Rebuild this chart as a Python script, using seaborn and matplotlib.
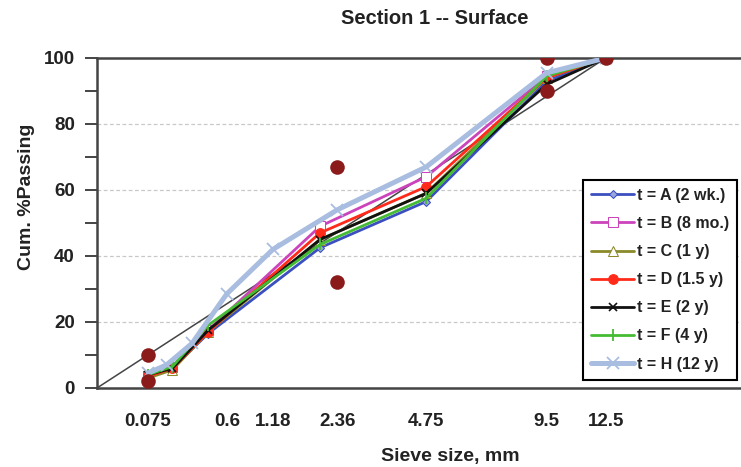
import numpy as np
import pandas as pd
import matplotlib
matplotlib.use("Agg")
import matplotlib.pyplot as plt
import seaborn as sns
from matplotlib import font_manager

# ---------------- data ----------------
sieves_old = [0.075, 0.18, 0.425, 2.0, 4.75, 9.5, 12.5]
pass_A = [4, 6, 16.5, 42.5, 56.5, 93, 100]
pass_B = [3.5, 6.5, 17.5, 49, 64, 94.5, 100]
pass_C = [3, 5.5, 17, 45, 59, 94, 100]
pass_D = [3.5, 6, 17, 47, 61, 94, 100]
pass_E = [4, 6, 17.5, 45, 59, 92, 100]
pass_F = [4, 6.5, 19, 43.5, 57.5, 94.5, 100]
sieves_new = [0.075, 0.15, 0.3, 0.6, 1.18, 2.36, 4.75, 9.5, 12.5]
pass_H = [4.5, 7, 13.5, 28.5, 42, 54, 67, 95.5, 100]

labels = ["t = A (2 wk.)", "t = B (8 mo.)", "t = C (1 y)", "t = D (1.5 y)",
          "t = E (2 y)", "t = F (4 y)", "t = H (12 y)"]

ctrl_x = [0.075, 0.075, 2.36, 2.36, 9.5, 9.5, 12.5]
ctrl_y = [2, 10, 32, 67, 90, 100, 100]

maxden_x = [0, 12.5]
maxden_y = [0, 100]

tick_sizes = [0.075, 0.6, 1.18, 2.36, 4.75, 9.5, 12.5]
tick_labels = ["0.075", "0.6", "1.18", "2.36", "4.75", "9.5", "12.5"]

# ---------------- style ----------------
sns.set_style("white")
avail = {f.name for f in font_manager.fontManager.ttflist}
fam = "Liberation Sans" if "Liberation Sans" in avail else "DejaVu Sans"
plt.rcParams["font.family"] = [fam, "DejaVu Sans"]
plt.rcParams["font.weight"] = "bold"

W, H = 741, 467
fig = plt.figure(figsize=(W / 100, H / 100), dpi=100)
ax = fig.add_axes([97 / W, (H - 388) / H, (W - 97) / W, 330 / H])

p = 0.45
ax.set_xscale("function",
              functions=(lambda x: np.power(np.clip(x, 0, None), p),
                         lambda y: np.power(np.clip(y, 0, None), 1 / p)))

# maximum density line
sns.lineplot(x=maxden_x, y=maxden_y, ax=ax, color="#444444", lw=1.1,
             zorder=2, legend=False)

styles = [
    (sieves_old, pass_A, "#3b4fc0", "D", dict(ms=4.5, mfc="#9aa6e0", mec="#3b4fc0"), 2.0),
    (sieves_old, pass_B, "#cc44bb", "s", dict(ms=7, mfc="white", mec="#cc44bb"), 2.0),
    (sieves_old, pass_C, "#8a8a2a", "^", dict(ms=7, mfc="white", mec="#8a8a2a"), 2.0),
    (sieves_old, pass_D, "#ff2a1a", "o", dict(ms=7, mfc="#ff2a1a", mec="#ff2a1a"), 2.0),
    (sieves_old, pass_E, "#111111", "x", dict(ms=6, mec="#111111", mew=1.2), 2.0),
    (sieves_old, pass_F, "#44bb33", "|", dict(ms=9, mec="#44bb33", mew=1.3), 2.0),
    (sieves_new, pass_H, "#a8bde0", "x", dict(ms=8, mec="#a8bde0", mew=1.3), 3.6),
]

for i, ((xs, ys, col, mk, mkw, lw), lab) in enumerate(zip(styles, labels)):
    df = pd.DataFrame({"size": xs, "pass": ys})
    sns.lineplot(data=df, x="size", y="pass", ax=ax, color=col, marker=mk,
                 lw=lw, label=lab, zorder=3 + i, sort=False, **mkw)

# control points
sns.scatterplot(x=ctrl_x, y=ctrl_y, ax=ax, color="#8b1a1a", s=110,
                edgecolor="#8b1a1a", linewidth=0, zorder=20, legend=False)

# axes
ax.set_xlim(0, 21.1)
ax.set_ylim(0, 100)
ax.set_yticks(np.arange(0, 101, 10))
ax.set_yticklabels([str(v) if v % 20 == 0 else "" for v in range(0, 101, 10)])
ax.set_xticks(tick_sizes)
ax.set_xticklabels(tick_labels)
ax.tick_params(axis="y", length=9, width=1.4, color="#444444", pad=7,
               labelsize=13.5, direction="out", left=True)
ax.tick_params(axis="x", length=0, pad=18, labelsize=13.5)
for lab in ax.get_xticklabels() + ax.get_yticklabels():
    lab.set_fontweight("bold")
    lab.set_color("#222222")

for yv in [20, 40, 60, 80]:
    ax.axhline(yv, color="#c8c8c8", lw=0.9, ls=(0, (3, 2)), zorder=1)

for s in ["left", "bottom", "top"]:
    ax.spines[s].set_visible(True)
    ax.spines[s].set_color("#444444")
    ax.spines[s].set_linewidth(1.8)
ax.spines["right"].set_visible(False)
ax.set_xlabel("")
ax.set_ylabel("")

# titles / labels
fig.text(435 / W, 1 - 19 / H, "Section 1 -- Surface", ha="center", va="center",
         fontsize=14.5, fontweight="bold", color="#222222")
fig.text(450 / W, 1 - 456 / H, "Sieve size, mm", ha="center", va="center",
         fontsize=14, fontweight="bold", color="#222222")
fig.text(27 / W, 1 - 197 / H, "Cum. %Passing", ha="center", va="center",
         rotation=90, fontsize=14, fontweight="bold", color="#222222")

leg = ax.legend(loc="upper left", bbox_to_anchor=(583 / W, 1 - 180 / H),
                bbox_transform=fig.transFigure, borderaxespad=0,
                fontsize=11.5, frameon=True, fancybox=False, framealpha=1,
                edgecolor="black", handlelength=2.7, handletextpad=0.15,
                labelspacing=0.82, borderpad=0.5, numpoints=1)
leg.get_frame().set_linewidth(1.5)
for t in leg.get_texts():
    t.set_fontweight("bold")
    t.set_color("#222222")

fig.savefig("out.png", dpi=100)
